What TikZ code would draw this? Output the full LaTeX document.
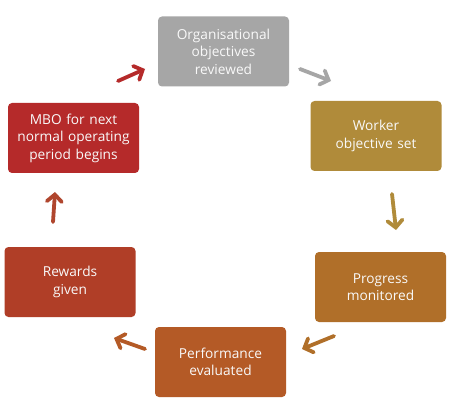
\documentclass[tikz,border=0pt]{standalone}
\usepackage{fontspec}
\setmainfont{Open Sans}
\usetikzlibrary{arrows.meta}
\definecolor{cgray}{HTML}{A6A6A6}
\definecolor{cgold}{HTML}{B08B3A}
\definecolor{cochre}{HTML}{B06F29}
\definecolor{corange}{HTML}{B45A26}
\definecolor{crust}{HTML}{B03E27}
\definecolor{cred}{HTML}{B52A2A}
\definecolor{cupar}{HTML}{B0462E}
\tikzset{
  stepbox/.style={rectangle, rounded corners=4pt, minimum width=131pt, minimum height=70pt,
    inner sep=0pt, text width=129pt, align=center, text=white!95!gray,
    font=\fontsize{13.7}{17.5}\selectfont},
  flow/.style={line width=3.8pt, line cap=round,
    -{Straight Barb[length=7pt,width=15pt,line cap=round]}},
}
\begin{document}
\begin{tikzpicture}[x=1pt,y=-1pt]
\useasboundingbox[fill=white] (0,0) rectangle (460,406);
\node[stepbox, fill=cgray] (org) at (223.5,51.5) {Organisational\\objectives\\reviewed};
\node[stepbox, fill=cgold] (work) at (376,136) {Worker\\objective set};
\node[stepbox, fill=cochre] (prog) at (380.5,287) {Progress\\monitored};
\node[stepbox, fill=corange] (perf) at (220.5,362) {Performance\\evaluated};
\node[stepbox, fill=crust] (rew) at (70,282) {Rewards\\given};
\node[stepbox, fill=cred] (mbo) at (73.5,138) {MBO for next\\normal operating\\period begins};
\coordinate (a1s) at (300,69); \coordinate (a1e) at (331,81);
\coordinate (a2s) at (392,194); \coordinate (a2e) at (396,230);
\coordinate (a3s) at (334,336); \coordinate (a3e) at (302,349);
\coordinate (a4s) at (145,349); \coordinate (a4e) at (114,338);
\coordinate (a5s) at (53,222); \coordinate (a5e) at (55,192);
\coordinate (a6s) at (118,81); \coordinate (a6e) at (145,69);
\draw[flow, cgray] (a1s) -- (a1e);
\draw[flow, cgold] (a2s) -- (a2e);
\draw[flow, cochre] (a3s) -- (a3e);
\draw[flow, corange] (a4s) -- (a4e);
\draw[flow, cupar] (a5s) -- (a5e);
\draw[flow, cred] (a6s) -- (a6e);
\end{tikzpicture}
\end{document}
